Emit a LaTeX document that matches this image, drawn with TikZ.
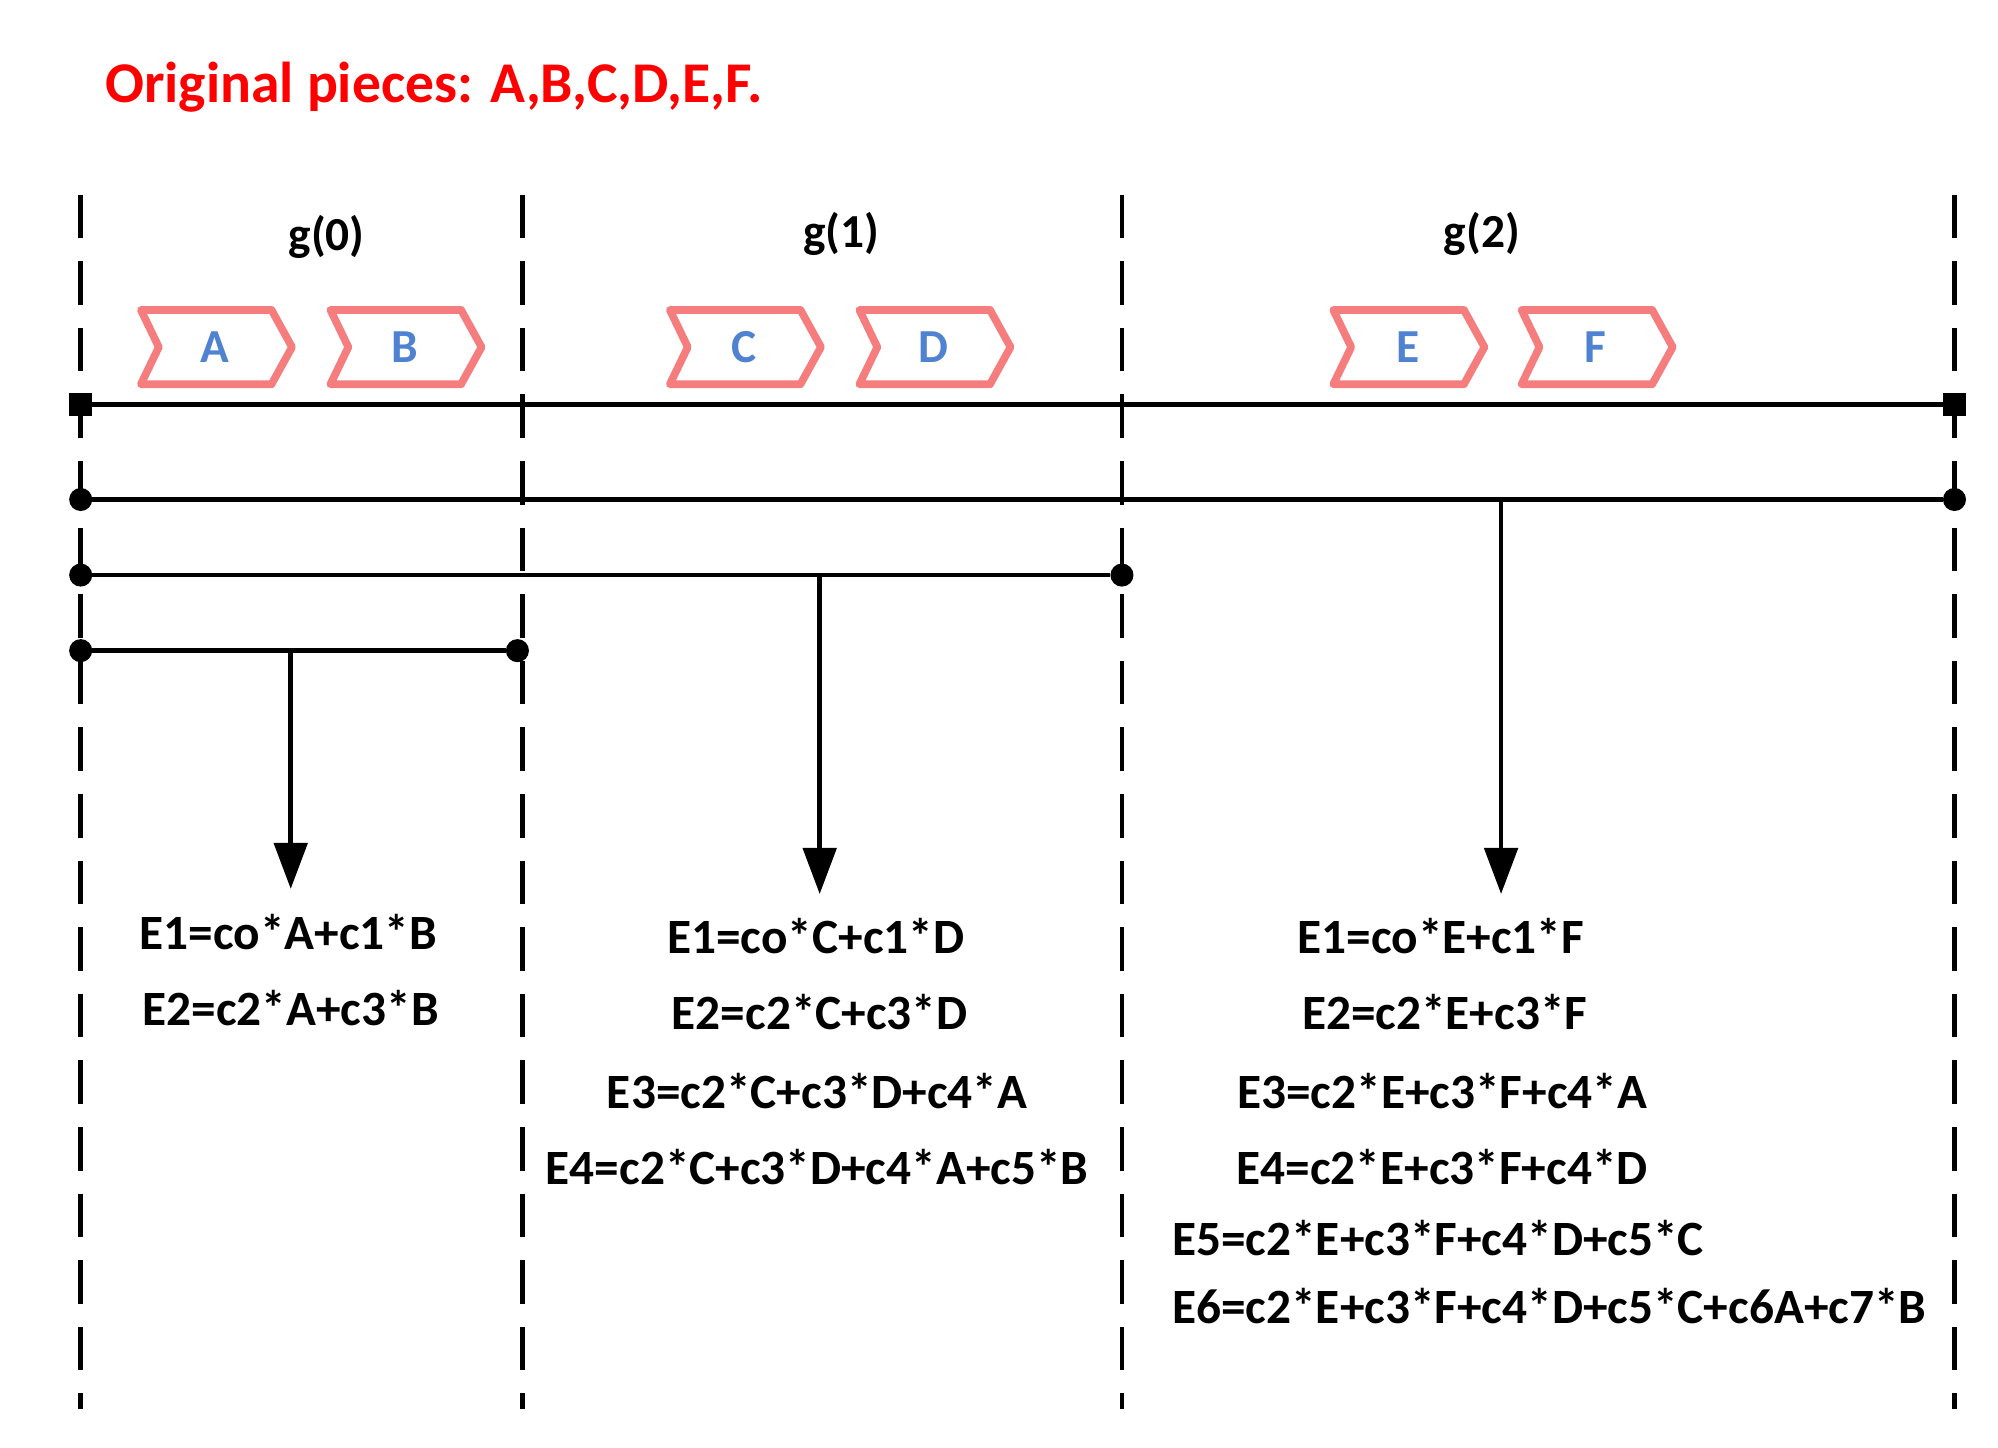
\documentclass[tikz,border=0pt]{standalone}
\usepackage{fontspec}
\setmainfont{Carlito}
\usetikzlibrary{arrows.meta}
\definecolor{chev}{RGB}{245,125,125}
\definecolor{lett}{RGB}{80,130,210}
\begin{document}
\begin{tikzpicture}[x=1pt,y=-1pt,
  ln/.style={line width=3.5pt,black},
  dsh/.style={line width=3.5pt,dash pattern=on 34pt off 18pt},
  arr/.style={ln,-{Triangle[length=36pt,width=26pt]}},
  eq/.style={font=\fontsize{38.5}{42}\selectfont\bfseries,inner sep=0pt},
  lab/.style={font=\fontsize{37}{40}\selectfont\bfseries,inner sep=0pt},
  dot/.style={circle,fill=black,inner sep=0pt,minimum size=18pt},
  sq/.style={rectangle,fill=black,inner sep=0pt,minimum size=18pt}]
\useasboundingbox (0,0) rectangle (1560,1130);
\node[anchor=west,text=red,font=\fontsize{45}{48}\selectfont\bfseries,inner sep=0pt] (title) at (82,68) {Original pieces: A,B,C,D,E,F.};
% dashed verticals
\foreach \x/\n in {63/v0,408/v1,876/v2,1526/v3}{
  \coordinate (\n t) at (\x,152); \coordinate (\n b) at (\x,1100);
  \draw[dsh] (\n t) -- (\n b);}
\node[lab] (g0) at (255,185) {g(0)};
\node[lab] (g1) at (657,183) {g(1)};
\node[lab] (g2) at (1157,183) {g(2)};
% chevrons
\foreach \c/\L in {168/A,316/B,581/C,729/D,1099/E,1246/F}{
  \draw[chev,line width=6pt,line join=round] (\c-58,242) -- (\c+44,242) -- (\c+60,271) -- (\c+44,300) -- (\c-58,300) -- (\c-44,271) -- cycle;
  \node[text=lett,font=\fontsize{37}{40}\selectfont\bfseries] (\L) at (\c,271) {\L};}
% lines
\node[sq] (s0) at (63,316) {}; \node[sq] (s1) at (1526,316) {};
\draw[ln] (s0) -- (s1);
\node[dot] (a0) at (63,390) {}; \node[dot] (a1) at (1526,390) {};
\draw[ln] (a0) -- (a1);
\node[dot] (b0) at (63,449) {}; \node[dot] (b1) at (876,449) {};
\draw[ln] (b0) -- (b1);
\node[dot] (c0) at (63,508) {}; \node[dot] (c1) at (404,508) {};
\draw[ln] (c0) -- (c1);
\coordinate (pa) at (1172,390); \coordinate (pb) at (640,449); \coordinate (pc) at (227,508);
\coordinate (ea) at (1172,698); \coordinate (eb) at (640,698); \coordinate (ec) at (227,694);
\draw[arr] (pa) -- (ea);
\draw[arr] (pb) -- (eb);
\draw[arr] (pc) -- (ec);
% equations
\node[eq] (q01) at (225,728) {E1=co*A+c1*B};
\node[eq] (q02) at (227,787) {E2=c2*A+c3*B};
\node[eq] (q11) at (637,731) {E1=co*C+c1*D};
\node[eq] (q12) at (640,790) {E2=c2*C+c3*D};
\node[eq] (q13) at (638,852) {E3=c2*C+c3*D+c4*A};
\node[eq] (q14) at (638,911) {E4=c2*C+c3*D+c4*A+c5*B};
\node[eq] (q21) at (1125,731) {E1=co*E+c1*F};
\node[eq] (q22) at (1128,790) {E2=c2*E+c3*F};
\node[eq] (q23) at (1126,852) {E3=c2*E+c3*F+c4*A};
\node[eq] (q24) at (1126,911) {E4=c2*E+c3*F+c4*D};
\node[eq,anchor=west] (q25) at (915,967) {E5=c2*E+c3*F+c4*D+c5*C};
\node[eq,anchor=west] (q26) at (915,1020) {E6=c2*E+c3*F+c4*D+c5*C+c6A+c7*B};
\end{tikzpicture}
\end{document}
